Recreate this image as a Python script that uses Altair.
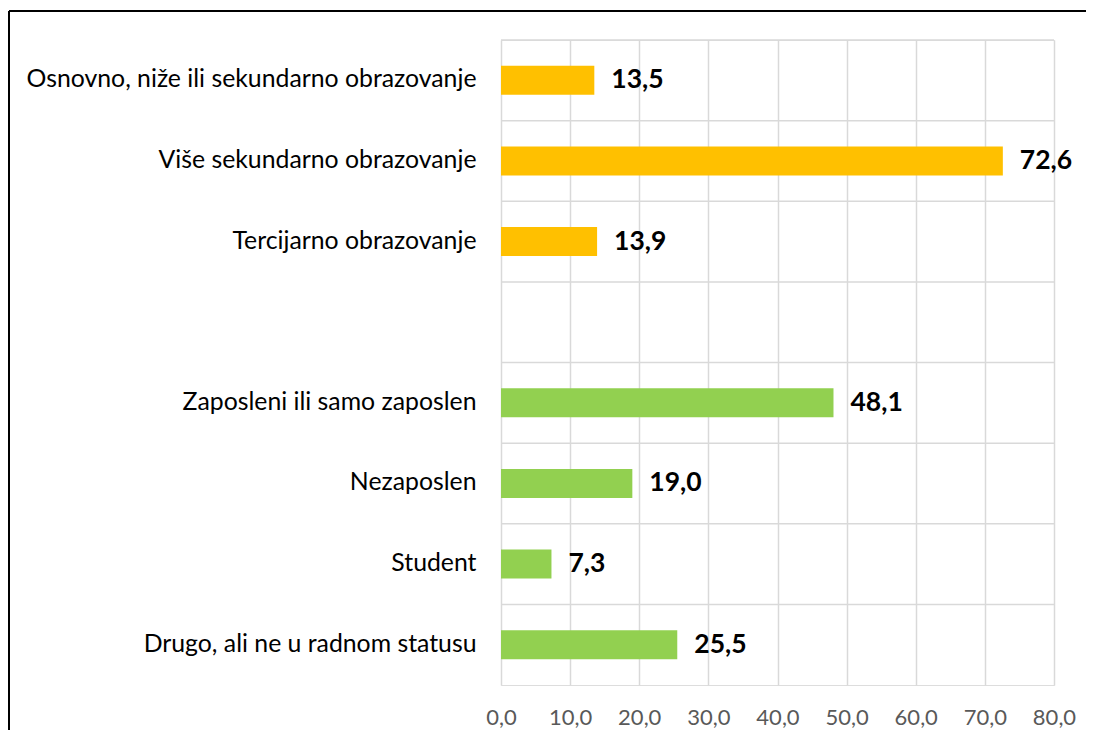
import altair as alt
import pandas as pd

categories = [
    "Osnovno, niže ili sekundarno obrazovanje",
    "Više sekundarno obrazovanje",
    "Tercijarno obrazovanje",
    " ",
    "Zaposleni ili samo zaposlen",
    "Nezaposlen",
    "Student",
    "Drugo, ali ne u radnom statusu",
]
values = [13.5, 72.6, 13.9, None, 48.1, 19.0, 7.3, 25.5]
groups = ["edu", "edu", "edu", "none", "work", "work", "work", "work"]
x_ticks = [0, 10, 20, 30, 40, 50, 60, 70, 80]

df = pd.DataFrame({"cat": categories, "val": values, "grp": groups})
df["label"] = [("" if v is None or pd.isna(v) else f"{v:.1f}".replace(".", ",")) for v in df["val"]]
bars_df = df.dropna(subset=["val"])

FONT = "Lato"
W, H = 553, 645

yenc = alt.Y("cat:N", sort=categories,
             scale=alt.Scale(domain=categories, paddingInner=0, paddingOuter=0),
             axis=alt.Axis(title=None, domain=False, ticks=False, grid=False,
                           labelFont=FONT, labelFontSize=24.8, labelColor="#000000",
                           labelPadding=25, labelLimit=600))
xscale = alt.Scale(domain=[0, 80], nice=False)
xaxis = alt.Axis(title=None, values=x_ticks, domain=False, ticks=False, grid=True,
                 gridColor="#D9D9D9", gridWidth=1.5,
                 labelFont=FONT, labelFontSize=22, labelColor="#595959",
                 labelPadding=22, labelFlush=False,
                 labelExpr="replace(format(datum.value, '.1f'), '.', ',')")

bars = alt.Chart(bars_df).mark_bar(size=29).encode(
    y=yenc,
    x=alt.X("val:Q", scale=xscale, axis=xaxis),
    color=alt.Color("grp:N", scale=alt.Scale(domain=["edu", "work"], range=["#FFC000", "#92D050"]), legend=None),
)

texts = alt.Chart(bars_df).mark_text(align="left", baseline="middle", dx=17,
                                     font=FONT, fontSize=26.5, fontWeight="bold", color="#000000").encode(
    y=alt.Y("cat:N", sort=categories),
    x=alt.X("val:Q"),
    text="label:N",
)

hgrid = alt.Chart(df).mark_rule(color="#D9D9D9", strokeWidth=1.5).encode(
    y=alt.Y("cat:N", sort=categories, bandPosition=0),
)

frame_left = alt.Chart(pd.DataFrame({"a": [0]})).mark_rule(color="#000000", strokeWidth=2).encode(
    x=alt.value(-492), y=alt.value(-29), y2=alt.value(800))
frame_top = alt.Chart(pd.DataFrame({"a": [0]})).mark_rule(color="#000000", strokeWidth=2).encode(
    x=alt.value(-492), x2=alt.value(1200), y=alt.value(-29))

chart = alt.layer(hgrid, bars, texts, frame_left, frame_top).properties(
    width=W, height=H,
    autosize=alt.AutoSizeParams(type="none"),
    padding={"left": 493, "top": 32, "right": 32, "bottom": 45},
).configure_view(stroke="#D9D9D9", strokeWidth=1.5).configure(background="#FFFFFF")

chart.save("out.html", embed_options={"renderer": "svg", "actions": False})
